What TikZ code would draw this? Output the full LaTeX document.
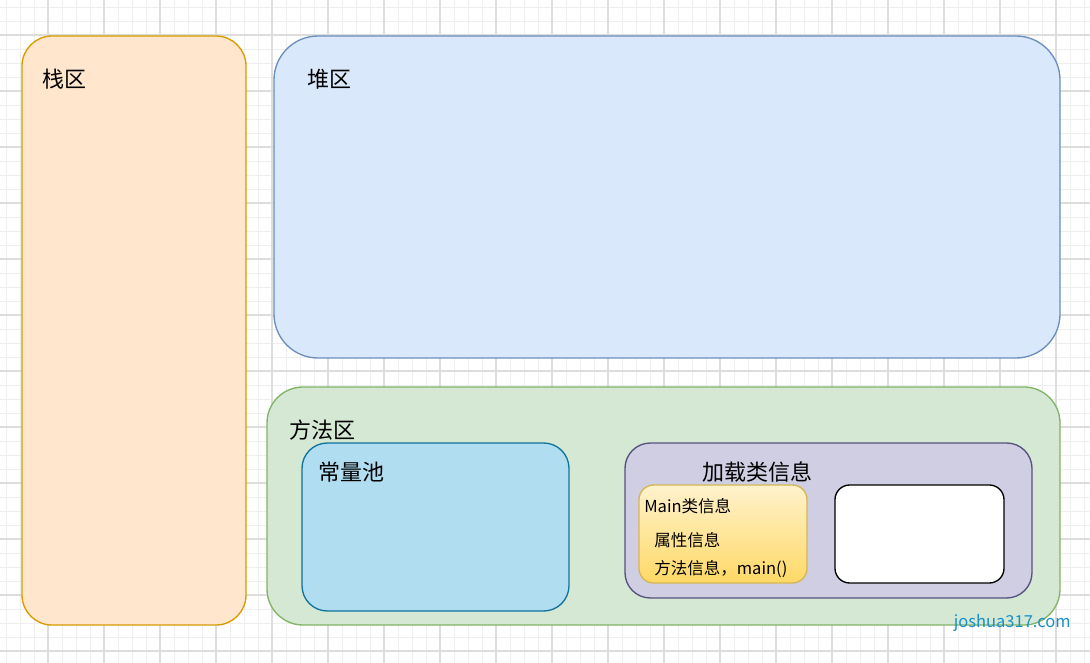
\documentclass[tikz,border=0pt]{standalone}
\usepackage{fontspec}
\setmainfont{Noto Sans CJK SC}
\definecolor{gmin}{HTML}{EEEEEE}\definecolor{gmaj}{HTML}{DDDDDD}
\definecolor{stf}{HTML}{FFE6CC}\definecolor{sts}{HTML}{D79B00}
\definecolor{hpf}{HTML}{DAE8FC}\definecolor{hps}{HTML}{6C8EBF}
\definecolor{mtf}{HTML}{D5E8D4}\definecolor{mts}{HTML}{82B366}
\definecolor{cpf}{HTML}{B1DDF0}\definecolor{cps}{HTML}{10739E}
\definecolor{ldf}{HTML}{D0CEE2}\definecolor{lds}{HTML}{56517E}
\definecolor{mna}{HTML}{FFF2CC}\definecolor{mnb}{HTML}{FFD966}\definecolor{mns}{HTML}{D6B656}
\definecolor{wm}{HTML}{1A8FC8}
\begin{document}
\begin{tikzpicture}[x=0.75pt,y=-0.75pt,
  box/.style={line width=1pt},
  lbl/.style={anchor=west,inner sep=0pt,font=\fontsize{16.5}{16.5}\selectfont},
  sml/.style={anchor=west,inner sep=0pt,font=\fontsize{12.4}{12.4}\selectfont}]
\useasboundingbox (0,0) rectangle (1090,663);
\fill[white] (0,0) rectangle (1090,663);
\foreach \x in {6,20,...,1090} \draw[gmin,line width=0.6pt] (\x,0) -- (\x,663);
\foreach \y in {7,21,...,663} \draw[gmin,line width=0.6pt] (0,\y) -- (1090,\y);
\foreach \x in {48,104,...,1090} \draw[gmaj,line width=0.8pt] (\x,0) -- (\x,663);
\foreach \y in {35,91,...,663} \draw[gmaj,line width=0.8pt] (0,\y) -- (1090,\y);
\draw[box,fill=stf,draw=sts,rounded corners=22.5pt] (22,36) rectangle (246,625);
\node[lbl] (stackl) at (42,79) {栈区};
\draw[box,fill=hpf,draw=hps,rounded corners=33pt] (274,36) rectangle (1060,358);
\node[lbl] (heapl) at (307,79) {堆区};
\draw[box,fill=mtf,draw=mts,rounded corners=27pt] (267,387) rectangle (1060,625);
\node[lbl] (methl) at (289,430) {方法区};
\draw[box,fill=cpf,draw=cps,rounded corners=19pt] (302,443) rectangle (569,611);
\node[lbl] (cpl) at (318,472) {常量池};
\draw[box,fill=ldf,draw=lds,rounded corners=19pt] (625,443) rectangle (1032,598);
\node[lbl,anchor=center] (ldl) at (757,472) {加载类信息};
\shade[top color=mna,bottom color=mnb,rounded corners=11pt] (639,485) rectangle (807,583);
\draw[box,draw=mns,rounded corners=11pt] (639,485) rectangle (807,583);
\node[sml] (m1) at (644,506) {Main类信息};
\node[sml] (m2) at (654,540) {属性信息};
\node[sml] (m3) at (654,569) {方法信息，main()};
\draw[box,fill=white,draw=black,rounded corners=11pt] (835,485) rectangle (1004,583);
\node[sml,anchor=east,text=wm] (wm) at (1071,623) {joshua317.com};
\end{tikzpicture}
\end{document}
